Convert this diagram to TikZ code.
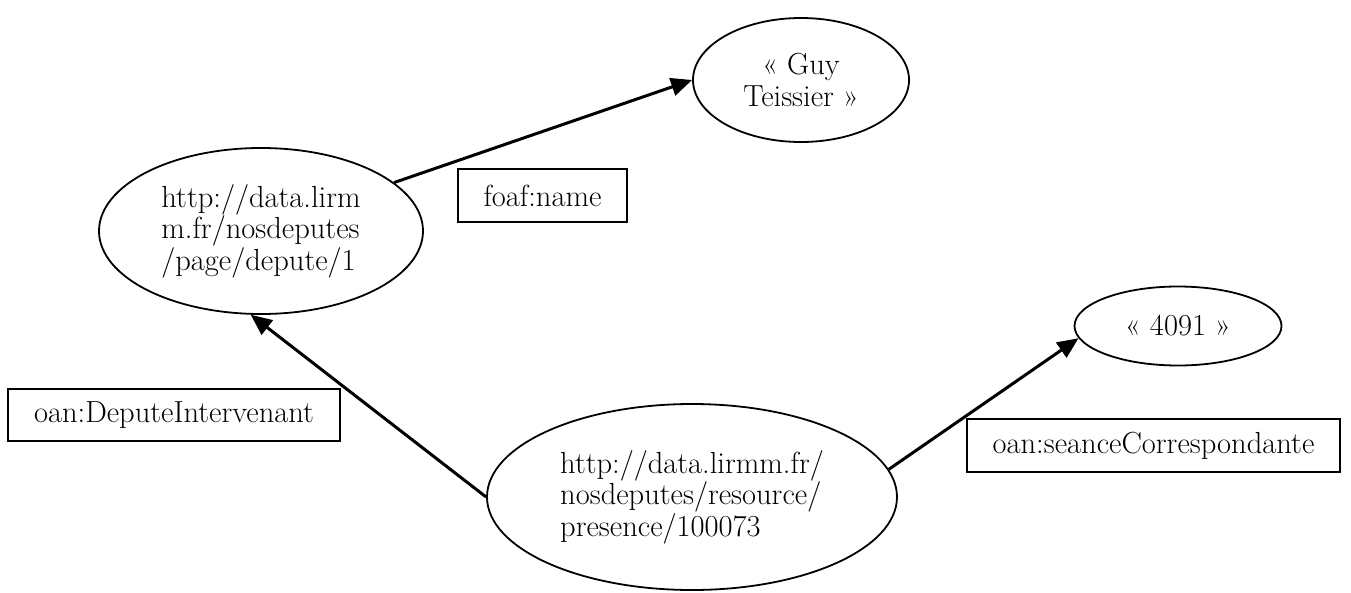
\documentclass[tikz,border=0pt]{standalone}
\usepackage{fontspec}
\usetikzlibrary{shapes.geometric,arrows.meta}
\begin{document}
\begin{tikzpicture}[x=1pt,y=-1pt,
  every node/.style={font=\fontsize{30.5}{31.5}\selectfont},
  res/.style={ellipse,draw,line width=1.8pt,inner sep=0pt,align=left},
  lit/.style={ellipse,draw,line width=1.8pt,inner sep=0pt,align=center},
  lbl/.style={rectangle,draw,line width=1.8pt,inner sep=0pt},
  link/.style={line width=3pt,-{Triangle[length=21pt,width=18pt]}}]
\useasboundingbox (0,0) rectangle (1351,592);
\node[res,minimum width=324pt,minimum height=166pt] (A) at (261,231)
  {http://data.lirm\\m.fr/nosdeputes\\/page/depute/1};
\node[lit,minimum width=216pt,minimum height=124pt] (B) at (801,80)
  {«~Guy\\Teissier~»};
\node[res,minimum width=410pt,minimum height=186pt] (C) at (692,497)
  {http://data.lirmm.fr/\\nosdeputes/resource/\\presence/100073};
\node[lit,minimum width=207pt,minimum height=79pt] (D) at (1178,326)
  {«~4091~»};
\node[lbl,minimum width=169pt,minimum height=53pt] (L1) at (542.5,195.5) {foaf:name};
\node[lbl,minimum width=332pt,minimum height=52pt] (L2) at (174,415) {oan:DeputeIntervenant};
\node[lbl,minimum width=373pt,minimum height=53pt] (L3) at (1153.5,445.5) {oan:seanceCorrespondante};
\draw[link] (A.20) -- (B.west);
\draw[link] (C.west) -- (A.263);
\draw[link] (C.8) -- (D.187);
\end{tikzpicture}
\end{document}
